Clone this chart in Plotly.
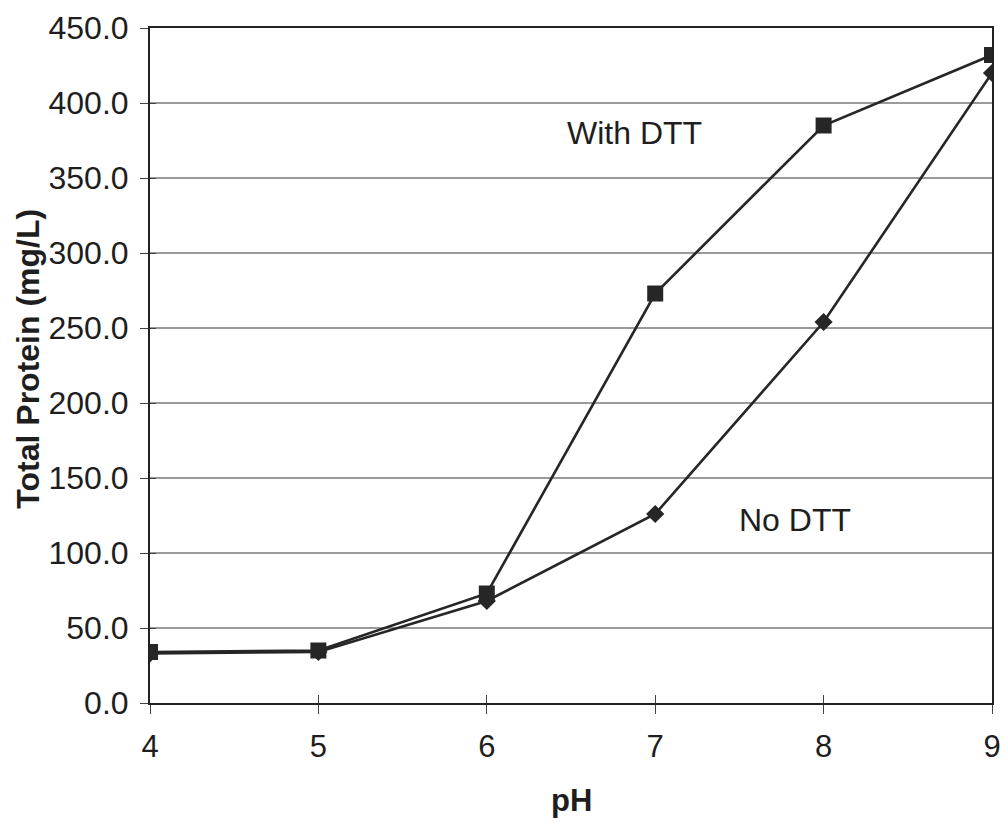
import plotly.graph_objects as go

# pH values and total protein measured with and without DTT
ph = [4, 5, 6, 7, 8, 9]
protein_with_dtt = [34, 35, 73, 273, 385, 432]
protein_no_dtt = [33, 34, 68, 126, 254, 420]

y_ticks = [0, 50, 100, 150, 200, 250, 300, 350, 400, 450]
x_ticks = [4, 5, 6, 7, 8, 9]

line_col = "#262626"
text_col = "#1e1e1e"
font_family = "Liberation Sans, Arial, sans-serif"

fig = go.Figure()

fig.add_trace(go.Scatter(
    x=ph, y=protein_no_dtt, mode="lines+markers", name="No DTT",
    line=dict(color=line_col, width=2.6),
    marker=dict(symbol="diamond", size=14, color=line_col),
    showlegend=False,
))
fig.add_trace(go.Scatter(
    x=ph, y=protein_with_dtt, mode="lines+markers", name="With DTT",
    line=dict(color=line_col, width=2.6),
    marker=dict(symbol="square", size=16, color=line_col),
    showlegend=False,
))

fig.add_annotation(x=6.88, y=380, text="With DTT", showarrow=False,
                   font=dict(size=32, color=text_col, family=font_family))
fig.add_annotation(x=7.83, y=122, text="No DTT", showarrow=False,
                   font=dict(size=32, color=text_col, family=font_family))

# axis titles
fig.add_annotation(xref="paper", yref="paper", x=0.5, y=-0.145,
                   xanchor="center", yanchor="middle", showarrow=False,
                   text="<b>pH</b>",
                   font=dict(size=31, color=text_col, family=font_family))
fig.add_annotation(xref="paper", yref="paper", x=-0.145, y=0.51,
                   xanchor="center", yanchor="middle", showarrow=False,
                   textangle=-90, text="<b>Total Protein (mg/L)</b>",
                   font=dict(size=32, color=text_col, family=font_family))

axis_common = dict(
    showline=True, linecolor="#222", linewidth=2, mirror=True,
    zeroline=False, automargin=False,
    tickcolor="#444", tickwidth=1.2,
)

fig.update_layout(
    width=1003, height=823,
    margin=dict(l=150, r=11, t=28, b=120),
    paper_bgcolor="white", plot_bgcolor="white",
    xaxis=dict(
        range=[4, 9], tickvals=x_ticks, ticktext=[str(v) for v in x_ticks],
        showgrid=False, ticks="outside", ticklen=9, ticklabelstandoff=6,
        tickfont=dict(size=31, color=text_col, family=font_family),
        **axis_common,
    ),
    yaxis=dict(
        range=[0, 450], tickvals=y_ticks, tickformat=".1f",
        showgrid=True, gridcolor="#9a9a9a", gridwidth=1.5,
        ticks="outside", ticklen=8, ticklabelstandoff=5,
        tickfont=dict(size=32, color=text_col, family=font_family),
        **axis_common,
    ),
    # overlay axes giving the tick marks their inner half
    xaxis2=dict(range=[4, 9], tickvals=x_ticks, showticklabels=False,
                overlaying="x", anchor="y", side="bottom", showgrid=False,
                zeroline=False, ticks="inside", ticklen=8,
                tickcolor="#444", tickwidth=1.2),
    yaxis2=dict(range=[0, 450], tickvals=y_ticks, showticklabels=False,
                overlaying="y", anchor="x", side="left", showgrid=False,
                zeroline=False, ticks="inside", ticklen=6,
                tickcolor="#444", tickwidth=1.2),
)

# invisible trace to activate the overlay axes
fig.add_trace(go.Scatter(x=[ph[0]], y=[protein_no_dtt[0]], xaxis="x2",
                         yaxis="y2", mode="markers", showlegend=False,
                         hoverinfo="skip", marker=dict(opacity=0)))

fig.write_html("out.html")
